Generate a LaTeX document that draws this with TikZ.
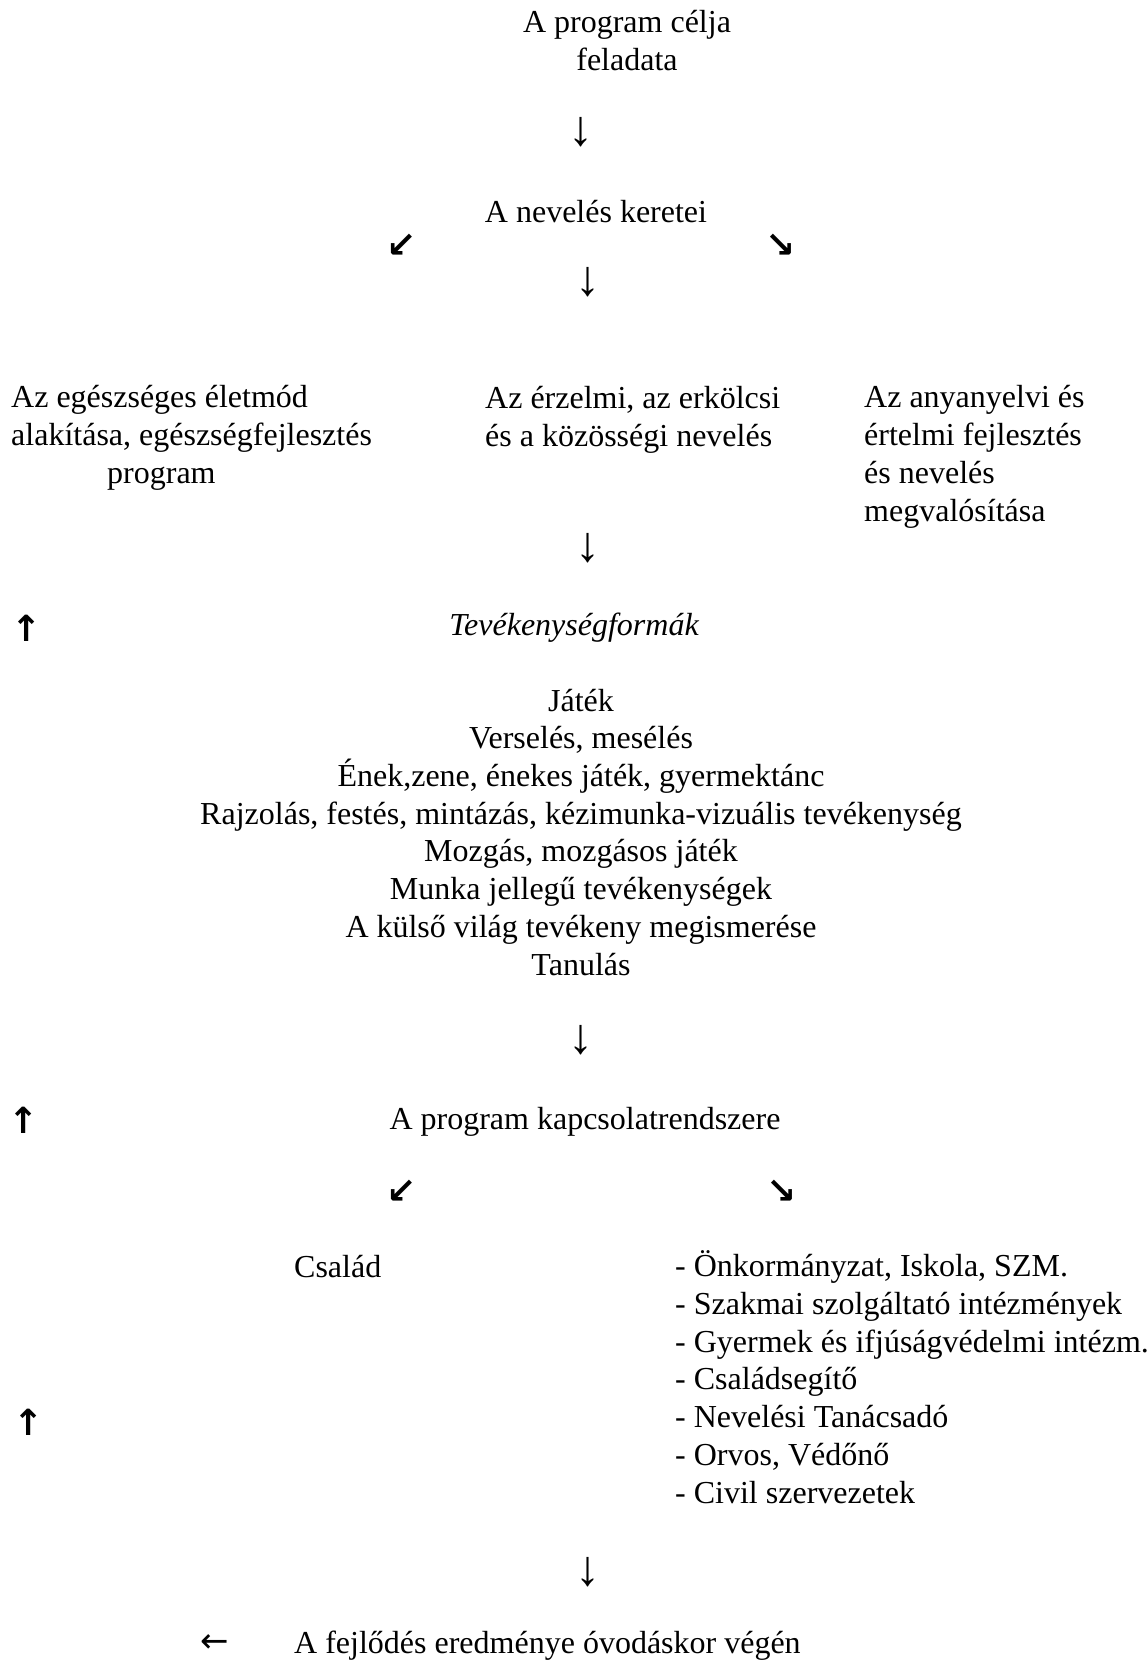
\documentclass[tikz,border=0pt]{standalone}
\usepackage{fontspec}
\setmainfont{Liberation Serif}
\newfontfamily\arrowfont{DejaVu Sans}
\newcommand{\txtSize}{\fontsize{32}{37.7}\selectfont}

\begin{document}
\begin{tikzpicture}[x=1pt, y=-1pt]
  \tikzset{every node/.style={inner sep=0pt, font=\txtSize},
    ctext/.style={anchor=base, align=center},
    ltext/.style={anchor=base west, align=left},
    down/.style={anchor=center, font=\fontsize{50}{50}\selectfont},
    diag/.style={anchor=center, font=\arrowfont\bfseries\fontsize{36}{36}\selectfont},
    up/.style={anchor=center, font=\arrowfont\bfseries\fontsize{36}{36}\selectfont},
    back/.style={anchor=center, font=\arrowfont\fontsize{34}{34}\selectfont}}
  \useasboundingbox (0,0) rectangle (1147,1663);

  % multi-line nodes sit on the baseline of their last line
  \node[ctext] (cel) at (627,70) {A program célja\\feladata};
  \node[down] (cel-le) at (581,132) {↓};

  \node[ctext] (keret) at (596,222) {A nevelés keretei};
  \node[diag] (keret-bal) at (402,246) {↙};
  \node[diag] (keret-jobb) at (781,246) {↘};
  \node[down] (keret-le) at (588,282) {↓};

  \node[ltext] (egeszseg) at (11,483) {Az egészséges életmód\\alakítása, egészségfejlesztés\\\hspace*{96pt}program};
  \node[ltext] (erzelmi) at (485,446) {Az érzelmi, az erkölcsi\\és a közösségi nevelés};
  \node[ltext] (anyanyelv) at (864,521) {Az anyanyelvi és\\értelmi fejlesztés\\és nevelés\\megvalósítása};
  \node[down] (nevel-le) at (588,548) {↓};

  \node[up] (tev-fel) at (27,628) {↑};
  \node[ctext, font=\txtSize\itshape] (tev) at (574,635) {Tevékenységformák};
  \node[ctext] (formak) at (581,975) {Játék\\Verselés, mesélés\\Ének,zene, énekes játék, gyermektánc\\
    Rajzolás, festés, mintázás, kézimunka-vizuális tevékenység\\Mozgás, mozgásos játék\\
    Munka jellegű tevékenységek\\A külső világ tevékeny megismerése\\Tanulás};
  \node[down] (formak-le) at (581,1040) {↓};

  \node[up] (kapcs-fel) at (24,1120) {↑};
  \node[ctext] (kapcs) at (585,1129) {A program kapcsolatrendszere};
  \node[diag] (kapcs-bal) at (402,1192) {↙};
  \node[diag] (kapcs-jobb) at (782,1192) {↘};

  \node[ltext] (csalad) at (294,1277) {Család};
  \node[ltext] (partner) at (675,1503) {- Önkormányzat, Iskola, SZM.\\- Szakmai szolgáltató intézmények\\
    - Gyermek és ifjúságvédelmi intézm.\\- Családsegítő\\- Nevelési Tanácsadó\\
    - Orvos, Védőnő\\- Civil szervezetek};
  \node[up] (partner-fel) at (29,1422) {↑};
  \node[down] (partner-le) at (588,1572) {↓};

  \node[back] (eredm-bal) at (215,1644) {←};
  \node[ltext] (eredmeny) at (294,1653) {A fejlődés eredménye óvodáskor végén};
\end{tikzpicture}
\end{document}
